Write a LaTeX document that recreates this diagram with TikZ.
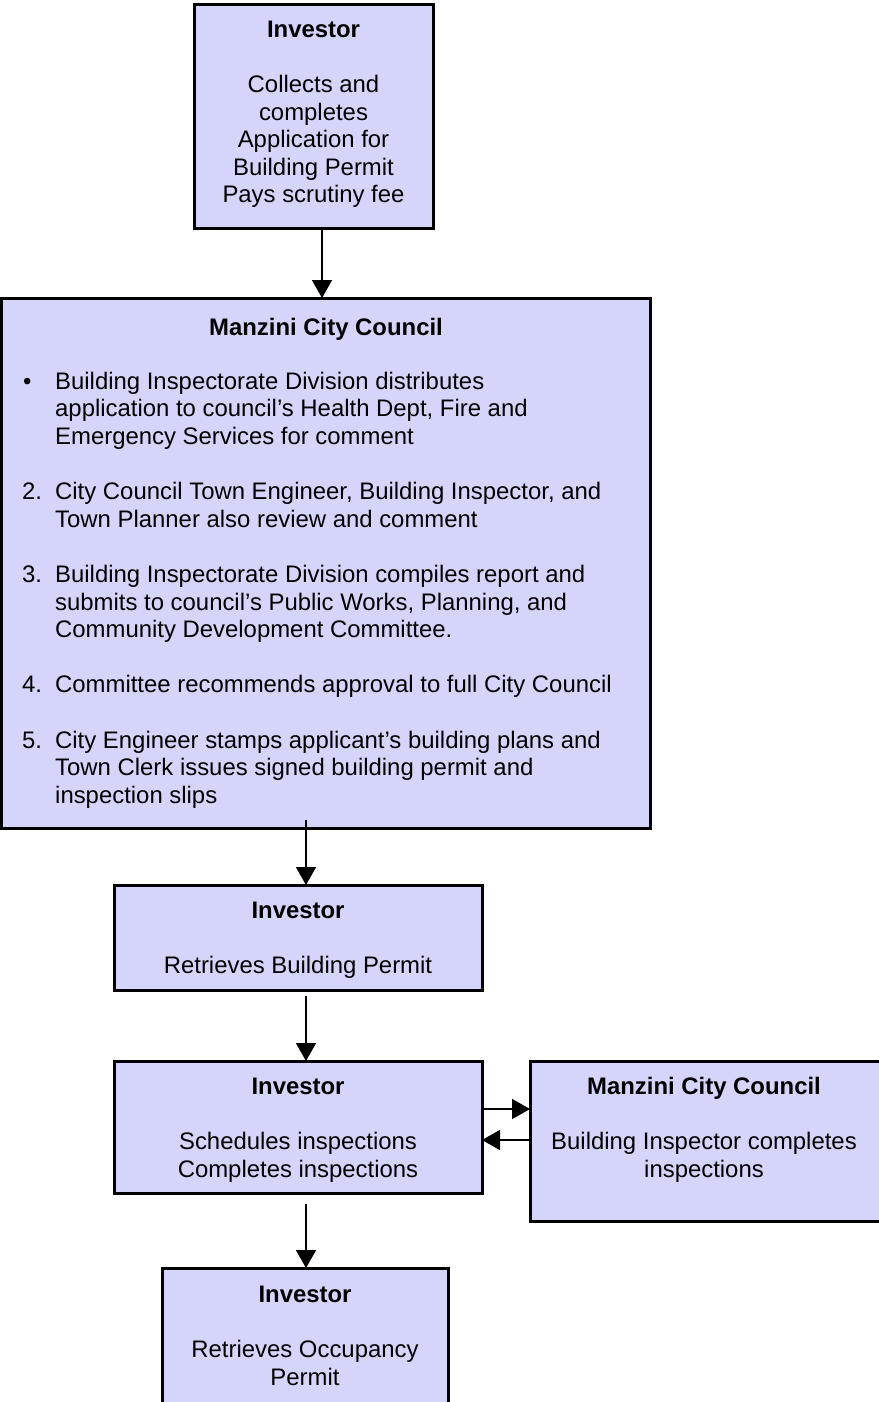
\documentclass[tikz,border=0pt]{standalone}
\usepackage{fontspec}
\setmainfont{Liberation Sans}
\usetikzlibrary{arrows.meta}
\definecolor{boxfill}{RGB}{213,213,252}
\begin{document}
\begin{tikzpicture}[x=1pt,y=-1pt,
  box/.style={draw=black, line width=3pt, fill=boxfill, inner sep=0pt, outer sep=0pt, anchor=north west},
  txt/.style={inner sep=0pt, font=\fontsize{23.9}{27.6}\selectfont, align=center, anchor=north},
  arr/.style={-{Triangle[length=18pt,width=20pt]}, line width=1.5pt}]
\useasboundingbox (0,0) rectangle (878,1402);
% boxes
\node[box, minimum width=239pt, minimum height=223.5pt] (b1) at (194,4.5) {};
\node[box, minimum width=648.5pt, minimum height=530pt] (b2) at (1.5,298) {};
\node[box, minimum width=368pt, minimum height=105pt] (b3) at (114,885) {};
\node[box, minimum width=368pt, minimum height=132pt] (b4) at (114,1061) {};
\node[box, minimum width=350pt, minimum height=160pt] (b5) at (530,1061) {};
\node[box, minimum width=286pt, minimum height=137pt] (b6) at (162,1268) {};
% texts
\node[txt] (t1) at (313.5,17) {\rule{0pt}{20pt}\textbf{Investor}\\[27.6pt]Collects and\\completes\\Application for\\Building Permit\\Pays scrutiny fee};
\node[txt] (t2) at (326,315) {\rule{0pt}{20pt}\textbf{Manzini City Council}};
\node[txt, anchor=north west, align=left] (t2b) at (22,369) {%
\rule{0pt}{20pt}\makebox[33pt][l]{\hspace{1pt}•}Building Inspectorate Division distributes\\
\hspace*{33pt}application to council’s Health Dept, Fire and\\
\hspace*{33pt}Emergency Services for comment\\[27.6pt]
\makebox[33pt][l]{2.}City Council Town Engineer, Building Inspector, and\\
\hspace*{33pt}Town Planner also review and comment\\[27.6pt]
\makebox[33pt][l]{3.}Building Inspectorate Division compiles report and\\
\hspace*{33pt}submits to council’s Public Works, Planning, and\\
\hspace*{33pt}Community Development Committee.\\[27.6pt]
\makebox[33pt][l]{4.}Committee recommends approval to full City Council\\[27.6pt]
\makebox[33pt][l]{5.}City Engineer stamps applicant’s building plans and\\
\hspace*{33pt}Town Clerk issues signed building permit and\\
\hspace*{33pt}inspection slips};
\node[txt] (t3) at (298,898) {\rule{0pt}{20pt}\textbf{Investor}\\[27.6pt]Retrieves Building Permit};
\node[txt] (t4) at (298,1074) {\rule{0pt}{20pt}\textbf{Investor}\\[27.6pt]Schedules inspections\\Completes inspections};
\node[txt] (t5) at (704,1074) {\rule{0pt}{20pt}\textbf{Manzini City Council}\\[27.6pt]Building Inspector completes\\inspections};
\node[txt] (t6) at (305,1282) {\rule{0pt}{20pt}\textbf{Investor}\\[27.6pt]Retrieves Occupancy\\Permit};
% connectors
\coordinate (p1) at ([xshift=8.5pt]b1.south);
\draw[arr] (p1) -- (p1 |- b2.north);
\coordinate (p2) at (b3.north |- b2.south);
\draw[arr] ([xshift=8pt,yshift=8pt]p2) -- ([xshift=8pt]b3.north);
\coordinate (p3) at ([xshift=8pt,yshift=-6pt]b3.south);
\draw[arr] (p3) -- (p3 |- b4.north);
\coordinate (p4) at ([xshift=8pt,yshift=-11pt]b4.south);
\draw[arr] (p4) -- (p4 |- b6.north);
\coordinate (h1) at ([yshift=-48pt]b4.north east);
\draw[arr] (h1) -- (h1 -| b5.west);
\coordinate (h2) at ([yshift=-79pt]b5.north west);
\draw[arr] (h2) -- (h2 -| b4.east);
\end{tikzpicture}
\end{document}
